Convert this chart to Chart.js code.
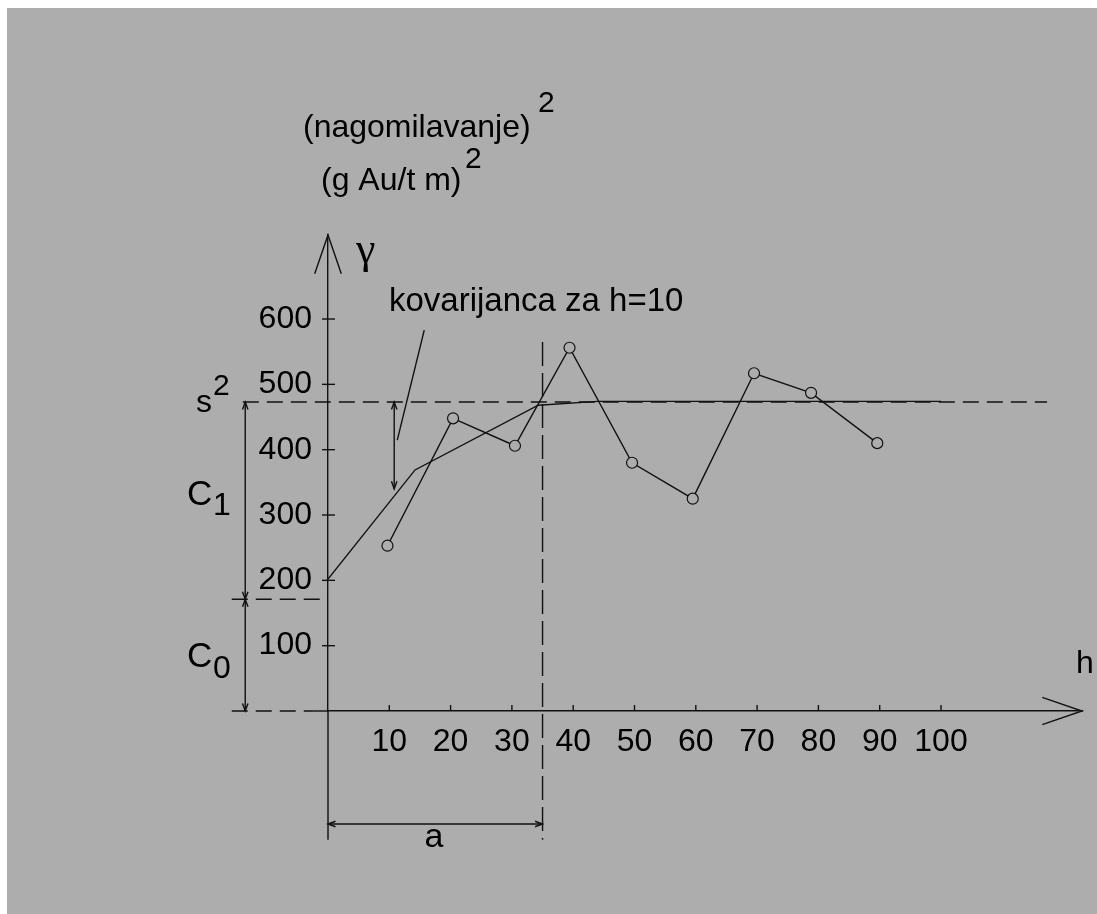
<!DOCTYPE html>
<html>
  <head>
    <title>Variogram</title>
    <script src="https://cdn.jsdelivr.net/npm/chart.js"></script>
    <style>
      body { margin: 0; background: #fff; overflow: hidden; }
    </style>
  </head>
  <body>
    <canvas id="variogram" width="1097" height="914"></canvas>

    <script>
      // experimental variogram points (h, gamma)
      const lagH = [9.7, 20.4, 30.5, 39.4, 49.6, 59.5, 69.5, 78.8, 89.6];
      const gammaExp = [253, 448, 406, 556, 380, 325, 517, 487, 410];

      // fitted model, as drawn
      const modelH = [0, 14.2, 34.3, 44, 100];
      const modelGamma = [202, 369, 468, 474, 474];

      // tick labels
      const xTicks = [10, 20, 30, 40, 50, 60, 70, 80, 90, 100];
      const yTicks = [100, 200, 300, 400, 500, 600];

      // model parameters shown on the sketch
      const sill = 473; // s^2
      const nugget = 171; // C0
      const range = 35; // a
      const covH = 10.8; // covariance arrow for h=10
      const covLow = 340;

      const BG = "#adadad";
      const INK = "#111";
      const SANS = "'Liberation Sans', Arial, sans-serif";

      function seg(c, x1, y1, x2, y2, dash) {
        c.setLineDash(dash || []);
        c.beginPath();
        c.moveTo(x1, y1);
        c.lineTo(x2, y2);
        c.stroke();
      }

      // open arrow head, tip at (x, y), pointing along ang
      function head(c, x, y, ang, len, spread) {
        c.setLineDash([]);
        c.beginPath();
        c.moveTo(x - len * Math.cos(ang - spread), y - len * Math.sin(ang - spread));
        c.lineTo(x, y);
        c.lineTo(x - len * Math.cos(ang + spread), y - len * Math.sin(ang + spread));
        c.stroke();
      }

      function txt(c, s, x, y, size, family) {
        c.font = size + "px " + (family || SANS);
        c.fillText(s, x, y);
      }

      const UP = -Math.PI / 2, DOWN = Math.PI / 2;

      const sketch = {
        id: "sketch",
        beforeDraw(chart) {
          const c = chart.ctx;
          c.save();
          c.fillStyle = "#fff";
          c.fillRect(0, 0, chart.width, chart.height);
          c.fillStyle = BG;
          c.fillRect(7, 8, chart.width - 7, chart.height - 8);
          c.restore();
        },
        beforeDatasetsDraw(chart) {
          const c = chart.ctx;
          const xs = chart.scales.x, ys = chart.scales.y;
          const X = (v) => xs.getPixelForValue(v);
          const Y = (v) => ys.getPixelForValue(v);
          const dash = [16, 8];

          c.save();
          c.strokeStyle = INK;
          c.lineWidth = 1.4;

          // axis arrows
          head(c, X(0), Y(ys.max), UP, 41, 0.33);
          head(c, X(xs.max), Y(0), 0, 42, 0.33);

          // axis extensions
          seg(c, X(0), Y(0), X(0), Y(-197));
          seg(c, X(-2.4), Y(0), X(0), Y(0));
          seg(c, X(-15.7), Y(0), X(-2.4), Y(0), dash);

          // tick marks
          xTicks.forEach((v) => seg(c, X(v), Y(0), X(v), Y(0) - 6));
          yTicks.forEach((v) => seg(c, X(0) - 6, Y(v), X(0) + 7, Y(v)));

          // sill, nugget, range
          seg(c, X(-13.9), Y(sill), X(117.3), Y(sill), dash);
          seg(c, X(-15.7), Y(nugget), X(0), Y(nugget), dash);
          seg(c, X(range), Y(565), X(range), Y(-197), [24, 7]);

          // C1 / C0 dimension
          const dx = X(-13.5);
          seg(c, dx, Y(sill), dx, Y(0));
          head(c, dx, Y(sill), UP, 8, 0.35);
          head(c, dx, Y(nugget), DOWN, 8, 0.35);
          head(c, dx, Y(nugget), UP, 8, 0.35);
          head(c, dx, Y(0), DOWN, 8, 0.35);

          // covariance at h=10
          seg(c, X(covH), Y(sill), X(covH), Y(covLow));
          head(c, X(covH), Y(sill), UP, 8, 0.35);
          head(c, X(covH), Y(covLow), DOWN, 8, 0.35);
          seg(c, X(15.7), Y(583), X(11.3), Y(414.6));

          // range dimension
          const ya = Y(-173);
          seg(c, X(0), ya, X(range), ya);
          head(c, X(0), ya, Math.PI, 8, 0.35);
          head(c, X(range), ya, 0, 8, 0.35);
          c.restore();
        },
        afterDraw(chart) {
          const c = chart.ctx;
          c.save();
          c.fillStyle = "#000";
          c.textBaseline = "alphabetic";
          txt(c, "(nagomilavanje)", 303, 137, 32);
          txt(c, "2", 538, 112, 30);
          txt(c, "(g Au/t m)", 321, 190, 32);
          txt(c, "2", 465, 168, 30);
          txt(c, "kovarijanca za h=10", 389, 311, 33);
          txt(c, "\u03b3", 356, 263, 44, "'Liberation Serif', 'DejaVu Serif', serif");
          txt(c, "s", 196, 412, 32);
          txt(c, "2", 213, 395, 30);
          txt(c, "C", 187, 505, 35);
          txt(c, "1", 213, 515, 32);
          txt(c, "C", 187, 667, 35);
          txt(c, "0", 213, 678, 32);
          txt(c, "h", 1076, 673, 32);
          c.textAlign = "center";
          txt(c, "a", 434, 847, 34);
          c.restore();
        },
      };

      const tickFont = { family: SANS, size: 32 };

      new Chart(document.getElementById("variogram"), {
        type: "line",
        data: {
          datasets: [
            {
              label: "gamma",
              data: lagH.map((h, i) => ({ x: h, y: gammaExp[i] })),
              borderColor: INK,
              borderWidth: 1.4,
              pointRadius: 5.5,
              pointBackgroundColor: BG,
              pointBorderColor: INK,
              pointBorderWidth: 1.2,
              tension: 0,
            },
            {
              label: "model",
              data: modelH.map((h, i) => ({ x: h, y: modelGamma[i] })),
              borderColor: INK,
              borderWidth: 1.4,
              pointRadius: 0,
              tension: 0,
            },
          ],
        },
        options: {
          responsive: false,
          animation: false,
          events: [],
          layout: { padding: { top: 235, right: 15, left: 0, bottom: 0 } },
          plugins: { legend: { display: false }, tooltip: { enabled: false } },
          scales: {
            x: {
              type: "linear",
              min: 0,
              max: 123,
              afterFit: (s) => { s.height = 203; },
              afterBuildTicks: (s) => { s.ticks = xTicks.map((v) => ({ value: v })); },
              grid: { display: false, drawTicks: false },
              border: { display: true, color: INK, width: 1.4 },
              ticks: { color: "#000", font: tickFont, padding: 12, maxRotation: 0, autoSkip: false },
            },
            y: {
              type: "linear",
              min: 0,
              max: 728.6,
              afterFit: (s) => { s.width = 328; },
              afterBuildTicks: (s) => { s.ticks = yTicks.map((v) => ({ value: v })); },
              grid: { display: false, drawTicks: false },
              border: { display: true, color: INK, width: 1.4 },
              ticks: { color: "#000", font: tickFont, padding: 16, autoSkip: false },
            },
          },
        },
        plugins: [sketch],
      });
    </script>
  </body>
</html>
